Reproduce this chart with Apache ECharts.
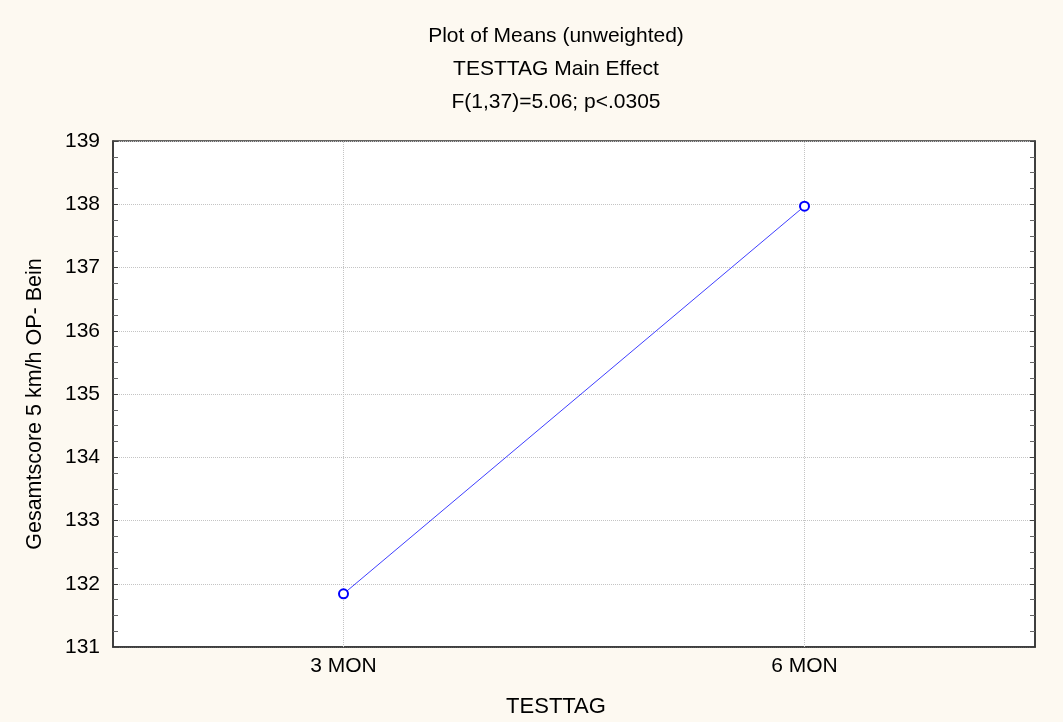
<!DOCTYPE html>
<html>
<head>
<meta charset="utf-8">
<script src="https://cdn.jsdelivr.net/npm/echarts@6/dist/echarts.min.js"></script>
<style>
  html, body { margin: 0; padding: 0; background: #fdf9f1; }
  #chart { width: 1063px; height: 722px; }
</style>
</head>
<body>
<div id="chart"></div>
<script>
// Means of the total score per test day
const categories = ['3 MON', '6 MON'];
const means = [131.84, 137.97];
const titleLines = ['Plot of Means (unweighted)', 'TESTTAG Main Effect', 'F(1,37)=5.06; p<.0305'];
const xName = 'TESTTAG';
const yName = 'Gesamtscore 5 km/h OP- Bein';

const font = 'Liberation Sans, Arial, sans-serif';
const chart = echarts.init(document.getElementById('chart'));

const valueAxisBase = {
  type: 'value',
  min: 131,
  max: 139,
  interval: 1,
  axisLine: { show: true, lineStyle: { color: '#333', width: 1.5 } },
  axisTick: { show: true, inside: true, length: 5, lineStyle: { color: '#444' } },
  minorTick: { show: true, splitNumber: 4, length: 5, lineStyle: { color: '#666' } },
  splitLine: { show: false }
};

chart.setOption({
  backgroundColor: '#fdf9f1',
  animation: false,
  grid: {
    left: 113, right: 28, top: 141, bottom: 75,
    show: true, backgroundColor: '#ffffff', borderColor: '#333', borderWidth: 1.5
  },
  graphic: [
    ...titleLines.map((t, i) => ({
      type: 'text', x: 556, y: 36 + i * 33,
      style: { text: t, textAlign: 'center', textVerticalAlign: 'middle', font: '21px ' + font, fill: '#000' }
    })),
    {
      type: 'text', x: 556, y: 707,
      style: { text: xName, textAlign: 'center', textVerticalAlign: 'middle', font: '22px ' + font, fill: '#000' }
    },
    {
      type: 'text', x: 35, y: 404, rotation: Math.PI / 2,
      style: { text: yName, textAlign: 'center', textVerticalAlign: 'middle', font: '21.5px ' + font, fill: '#000' }
    }
  ],
  xAxis: {
    type: 'category',
    data: categories,
    boundaryGap: true,
    axisLine: { show: true, lineStyle: { color: '#333', width: 1.5 } },
    axisTick: { show: false },
    axisLabel: { color: '#000', fontSize: 21, fontFamily: font, margin: 9 },
    splitLine: { show: false }
  },
  yAxis: [
    Object.assign({}, valueAxisBase, {
      position: 'left',
      axisLabel: { color: '#000', fontSize: 21, fontFamily: font, margin: 13 },
      splitLine: { show: true, lineStyle: { color: '#c4c4c4', type: 'dotted', width: 1 } }
    }),
    Object.assign({}, valueAxisBase, {
      position: 'right',
      axisLabel: { show: false }
    })
  ],
  series: [{
    type: 'line',
    data: means,
    yAxisIndex: 0,
    symbol: 'circle',
    symbolSize: 9,
    showSymbol: true,
    lineStyle: { color: '#3f3fff', width: 1 },
    itemStyle: { color: '#ffffff', borderColor: '#0000ff', borderWidth: 2 },
    markLine: {
      silent: true,
      symbol: 'none',
      label: { show: false },
      lineStyle: { color: '#c4c4c4', type: 'dotted', width: 1 },
      data: categories.map(c => ({ xAxis: c }))
    },
    z: 5
  }]
});
</script>
</body>
</html>
